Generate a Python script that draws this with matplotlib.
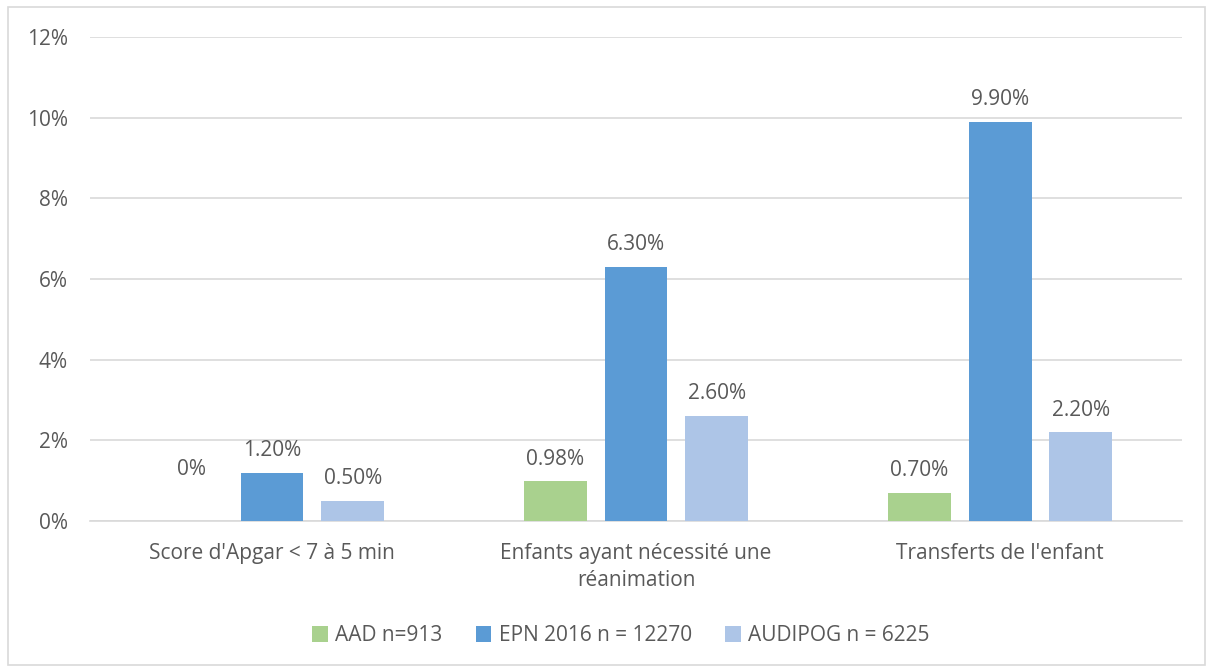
import matplotlib
matplotlib.use('Agg')
import matplotlib.pyplot as plt
import numpy as np
from matplotlib.patches import Rectangle

plt.rcParams['font.family'] = ['Open Sans', 'DejaVu Sans']

categories = ["Score d'Apgar < 7 à 5 min", "Enfants ayant nécessité une\nréanimation", "Transferts de l'enfant"]
series_names = ["AAD n=913", "EPN 2016 n = 12270", "AUDIPOG n = 6225"]
aad = [0.0, 0.98, 0.70]
epn = [1.20, 6.30, 9.90]
audipog = [0.50, 2.60, 2.20]
aad_labels = ["0%", "0.98%", "0.70%"]
epn_labels = ["1.20%", "6.30%", "9.90%"]
audipog_labels = ["0.50%", "2.60%", "2.20%"]
yticks = [0, 2, 4, 6, 8, 10, 12]

colors = ["#A9D18E", "#5B9BD5", "#ADC5E7"]
txt = "#595959"
fs = 15

fig = plt.figure(figsize=(12.08, 6.67), dpi=100)
ax = fig.add_axes([0.0745, 0.2189, 0.904, 0.7256])

# outer chart border
fig.patches.append(Rectangle((0.0066, 0.003), 0.991, 0.9865, transform=fig.transFigure,
                             fill=False, edgecolor="#d9d9d9", lw=1.2))

x = np.arange(len(categories))
w = 0.173
off = 0.222
for i, (vals, labs) in enumerate([(aad, aad_labels), (epn, epn_labels), (audipog, audipog_labels)]):
    pos = x + (i - 1) * off
    ax.bar(pos, vals, width=w, color=colors[i], label=series_names[i], zorder=3)
    for p, v, l in zip(pos, vals, labs):
        dy = 37 if v == 0 else 16
        ax.annotate(l, (p, v), xytext=(0, dy), textcoords="offset points",
                    ha="center", va="center", fontsize=fs, color=txt)

ax.set_xlim(-0.5, 2.5)
ax.set_ylim(0, 12)
ax.set_yticks(yticks)
ax.set_yticklabels([f"{t}%" for t in yticks])
ax.yaxis.grid(True, color="#d9d9d9", lw=1.2, zorder=0)
ax.set_xticks(x)
ax.set_xticklabels(categories, fontsize=fs, color=txt, linespacing=1.35)
ax.tick_params(axis="y", length=0, labelsize=fs, labelcolor=txt, pad=16)
ax.tick_params(axis="x", length=0, pad=16)
for s in ["top", "right", "left"]:
    ax.spines[s].set_visible(False)
ax.spines["bottom"].set_color("#d9d9d9")
ax.spines["bottom"].set_linewidth(1.2)

leg = fig.legend(loc="center", bbox_to_anchor=(0.514, 0.047), ncol=3, frameon=False,
                 fontsize=fs, handlelength=0.75, handleheight=0.75, columnspacing=1.6,
                 handletextpad=0.35)
for t in leg.get_texts():
    t.set_color(txt)

fig.savefig("out.png", dpi=100)
